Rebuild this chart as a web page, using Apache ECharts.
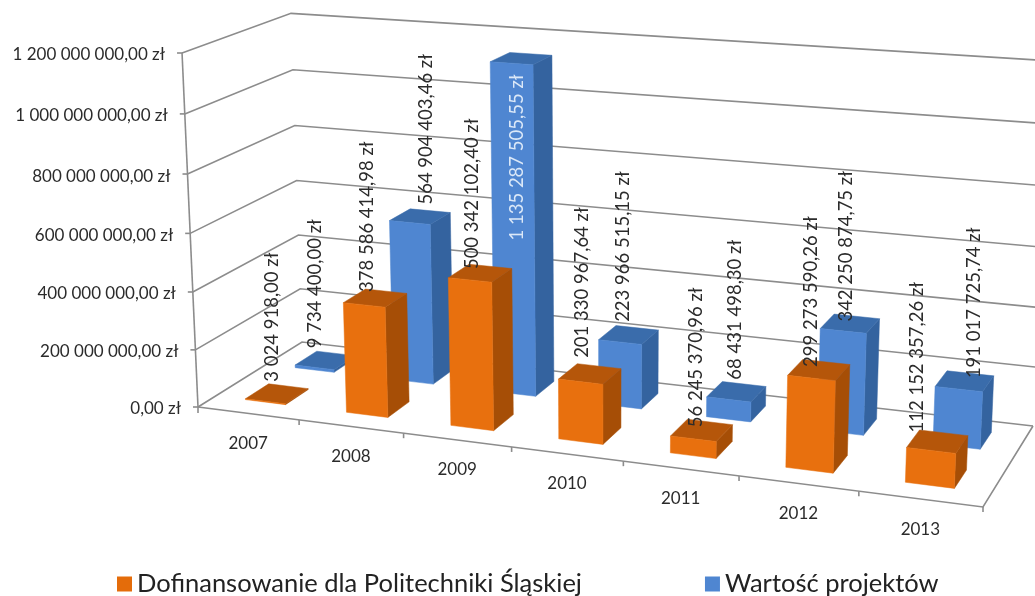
<!DOCTYPE html>
<html>
<head>
<meta charset="utf-8">
<title>Dofinansowanie</title>
<style>
  html, body { margin: 0; padding: 0; background: #fff; }
  #chart { width: 1035px; height: 596px; }
</style>
<script src="https://cdn.jsdelivr.net/npm/echarts@6/dist/echarts.min.js"></script>
</head>
<body>
<div id="chart"></div>
<script>
const years = ["2007", "2008", "2009", "2010", "2011", "2012", "2013"];
const funding = [3024918.0, 378586414.98, 500342102.4, 201330967.64, 56245370.96, 299273590.26, 112152357.26];
const projects = [9734400.0, 564904403.46, 1135287505.55, 223966515.15, 68431498.3, 342250874.75, 191017725.74];
const valueTicks = [0, 200000000, 400000000, 600000000, 800000000, 1000000000, 1200000000];

const FONT = "Lato, 'Noto Sans', sans-serif";
const GRID_COLOR = "#8c8c8c";
const TEXT_COLOR = "#2b2b2b";

// corners of the 3D box on screen, the perspective is worked out from them
const floorFrontLeft = [198, 407];
const floorFrontRight = [983, 507];
const floorBackRight = [1033, 426];
const floorBackLeft = [302, 342];
const wallTopY = 53;
const verticalVanish = [608, 9500]; // where the upright edges meet, far below the chart

// the labels were moved by hand in the original, so each has its own nudge (px)
const fundingLabelNudge = [[-5, 2], [-8, 8], [-8, 10], [-8, -2], [-6, 11], [-8, 11], [-20, 5]];
const projectsLabelNudge = [[-10, 2], [6, 2], [1, 7], [-6, 1], [-1, 2], [-4, 12], [9, 11]];

// homography of the floor, plus one column for the height
const makeProjection = () => {
  const [x0, y0] = floorFrontLeft;
  const [x1, y1] = floorFrontRight;
  const [x2, y2] = floorBackRight;
  const [x3, y3] = floorBackLeft;
  const dx1 = x1 - x2, dx2 = x3 - x2, sx = x0 - x1 + x2 - x3;
  const dy1 = y1 - y2, dy2 = y3 - y2, sy = y0 - y1 + y2 - y3;
  const den = dx1 * dy2 - dx2 * dy1;
  const g = (sx * dy2 - dx2 * sy) / den;
  const h = (dx1 * sy - sx * dy1) / den;
  const a = x1 - x0 + g * x1, b = x3 - x0 + h * x3, c = x0;
  const d = y1 - y0 + g * y1, e = y3 - y0 + h * y3, f = y0;
  const r = (wallTopY - f) / (verticalVanish[1] - wallTopY);
  const p = r * verticalVanish[0];
  const q = r * verticalVanish[1];
  return (u, v, w) => {
    const k = g * u + h * v + 1 + r * w;
    return [(a * u + b * v + c + p * w) / k, (d * u + e * v + f + q * w) / k];
  };
};
const project = makeProjection();

// depth position of each series on the floor
const orangeDepth = [0.16, 0.38];
const blueDepth = [0.64, 0.86];
const barShare = 0.4;

// grid coordinates -> share of the box
const toBox = (params, api, cat, val) => {
  const rect = params.coordSys;
  const pt = api.coord([cat, val]);
  return { u: (pt[0] - rect.x) / rect.width, w: (rect.y + rect.height - pt[1]) / rect.height };
};

const barRenderer = (depth, colors) => (params, api) => {
  const cat = api.value(0);
  const { u, w } = toBox(params, api, cat, api.value(1));
  const half = (barShare / years.length) / 2;
  const [v0, v1] = depth;
  const corner = (su, sv, sw) => project(u + su * half, sv ? v1 : v0, sw ? w : 0);
  const face = (points, fill) => ({
    type: "polygon",
    shape: { points },
    style: { fill, stroke: fill, lineWidth: 0.5 },
  });
  return {
    type: "group",
    children: [
      face([corner(1, 0, 0), corner(1, 1, 0), corner(1, 1, 1), corner(1, 0, 1)], colors.side),
      face([corner(-1, 0, 1), corner(1, 0, 1), corner(1, 1, 1), corner(-1, 1, 1)], colors.top),
      face([corner(-1, 0, 0), corner(1, 0, 0), corner(1, 0, 1), corner(-1, 0, 1)], colors.front),
    ],
  };
};

const line = (pts) => ({
  type: "polyline",
  shape: { points: pts },
  style: { stroke: GRID_COLOR, lineWidth: 1.6, fill: null },
});

const renderValueTick = (params, api) => {
  const val = api.value(0);
  const { w } = toBox(params, api, 0, val);
  const front = project(0, 0, w);
  const back = project(0, 1, w);
  const right = project(1, 1, w);
  const children = [
    line([front, back, right]),
    line([[front[0] - 5, front[1]], front]),
    {
      type: "text",
      x: front[0] - 17,
      y: front[1] + 2,
      style: {
        text: money(val),
        font: "17px " + FONT,
        fill: TEXT_COLOR,
        align: "right",
        verticalAlign: "middle",
      },
    },
  ];
  if (val === 0) {
    children.push(line([project(0, 0, 0), project(1, 0, 0), project(1, 1, 0)]));
    children.push(line([project(0, 0, 0), project(0, 0, 1)]));
  }
  return { type: "group", children };
};

const renderCategory = (params, api) => {
  const cat = api.value(0);
  const { u } = toBox(params, api, cat, 0);
  const half = 0.5 / years.length;
  const mid = project(u, 0, 0);
  const tick = project(u + half, 0, 0);
  const children = [
    line([tick, [tick[0], tick[1] + 5]]),
    {
      type: "text",
      x: mid[0],
      y: mid[1] + 30,
      style: {
        text: years[cat],
        font: "17px " + FONT,
        fill: TEXT_COLOR,
        align: "center",
        verticalAlign: "middle",
      },
    },
  ];
  if (cat === 0) {
    const first = project(0, 0, 0);
    children.push(line([first, [first[0], first[1] + 6]]));
  }
  return { type: "group", children };
};

function money(val) {
  const [whole, frac] = val.toFixed(2).split(".");
  return whole.replace(/\B(?=(\d{3})+$)/g, " ") + "," + frac + " zł";
}

const labelRenderer = (depth, nudges) => (params, api) => {
  const cat = api.value(0);
  const val = api.value(1);
  const { u, w } = toBox(params, api, cat, val);
  const top = project(u, (depth[0] + depth[1]) / 2, w);
  // the tallest bar carries its label on the front face
  const inside = val > 1000000000;
  return {
    type: "text",
    x: top[0] + (inside ? -5 : 0) + nudges[cat][0],
    y: (inside ? top[1] + 175 : top[1] - 14) + nudges[cat][1],
    rotation: Math.PI / 2,
    style: {
      text: money(val),
      font: "18.5px " + FONT,
      fill: inside ? "#dbe8f8" : TEXT_COLOR,
      align: "left",
      verticalAlign: "middle",
    },
  };
};

const toPairs = (list) => list.map((val, i) => [i, val]);

const option = {
  animation: false,
  backgroundColor: "#fff",
  grid: { left: 0, right: 0, top: 0, bottom: 0, show: false },
  xAxis: { type: "category", data: years, show: false },
  yAxis: { type: "value", min: 0, max: 1200000000, interval: 200000000, show: false },
  legend: {
    left: 112,
    top: 566,
    itemWidth: 15,
    itemHeight: 15,
    itemGap: 123,
    icon: "rect",
    data: ["Dofinansowanie dla Politechniki Śląskiej", "Wartość projektów"],
    textStyle: { fontFamily: FONT, fontSize: 25.5, color: "#222" },
  },
  series: [
    {
      type: "custom",
      name: "frame",
      z: 1,
      silent: true,
      renderItem: renderValueTick,
      data: valueTicks.map((val) => [val]),
      encode: { y: 0 },
    },
    {
      type: "custom",
      name: "categories",
      z: 1,
      silent: true,
      renderItem: renderCategory,
      data: years.map((_, i) => [i]),
      encode: { x: 0 },
    },
    {
      type: "custom",
      name: "Wartość projektów",
      z: 2,
      itemStyle: { color: "#4f86d1" },
      renderItem: barRenderer(blueDepth, { front: "#4f86d1", top: "#3a6cab", side: "#34639f" }),
      data: toPairs(projects),
      encode: { x: 0, y: 1 },
    },
    {
      type: "custom",
      name: "Dofinansowanie dla Politechniki Śląskiej",
      z: 3,
      itemStyle: { color: "#e46c0a" },
      renderItem: barRenderer(orangeDepth, { front: "#e8700e", top: "#b5560a", side: "#a64e06" }),
      data: toPairs(funding),
      encode: { x: 0, y: 1 },
    },
    {
      type: "custom",
      name: "labelsFunding",
      z: 4,
      silent: true,
      renderItem: labelRenderer(orangeDepth, fundingLabelNudge),
      data: toPairs(funding),
      encode: { x: 0, y: 1 },
    },
    {
      type: "custom",
      name: "labelsProjects",
      z: 4,
      silent: true,
      renderItem: labelRenderer(blueDepth, projectsLabelNudge),
      data: toPairs(projects),
      encode: { x: 0, y: 1 },
    },
  ],
};

const myChart = echarts.init(document.getElementById("chart"), null, { renderer: "canvas" });
myChart.setOption(option);
</script>
</body>
</html>
